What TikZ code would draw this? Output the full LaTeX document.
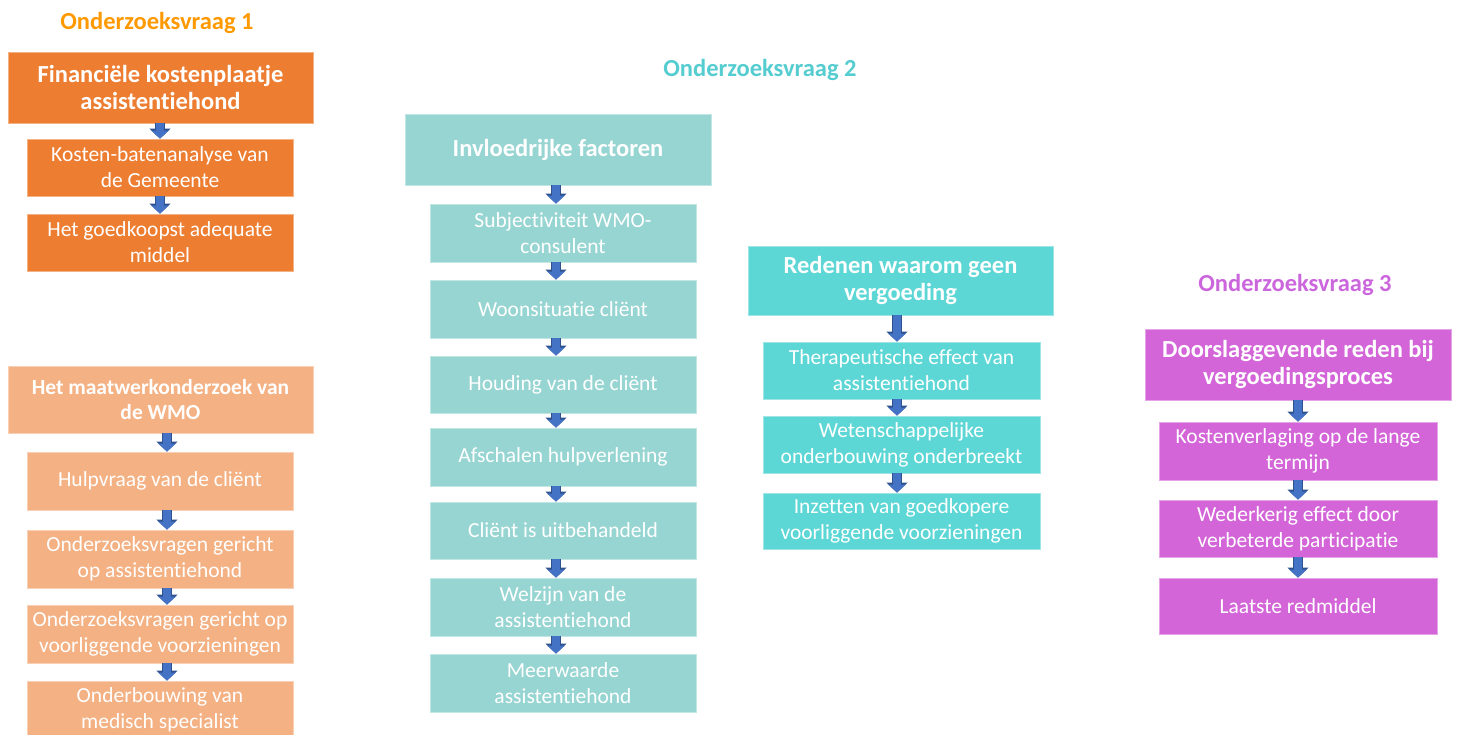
\documentclass[tikz,border=0pt]{standalone}
\usepackage{fontspec}
\setmainfont{Carlito}[Ligatures={NoCommon}]
\usetikzlibrary{arrows.meta}
\definecolor{orA}{HTML}{ED7D31}
\definecolor{orB}{HTML}{F4B183}
\definecolor{tlA}{HTML}{97D5D2}
\definecolor{tlB}{HTML}{5DD6D6}
\definecolor{mgA}{HTML}{D365D8}
\definecolor{ttlOr}{HTML}{FF9900}
\definecolor{ttlTl}{HTML}{55CDD0}
\definecolor{ttlMg}{HTML}{CC66DD}
\definecolor{arrFill}{HTML}{4472C4}
\definecolor{arrLine}{HTML}{2F528F}
\begin{document}
\begin{tikzpicture}[x=1pt,y=-1pt,
  box/.style={rectangle, inner sep=0pt, align=center, text=white, line width=0.8pt,
    font=\fontsize{21.5}{26}\selectfont},
  headbox/.style={box, font=\bfseries\fontsize{24.5}{27}\selectfont},
  headsmall/.style={box, font=\bfseries\fontsize{21.5}{25}\selectfont},
  ttl/.style={inner sep=0pt, font=\bfseries\fontsize{24.5}{29}\selectfont},
  cOA/.style={fill=orA, draw=orA!60!white},
  cOB/.style={fill=orB, draw=orB!60!white},
  cTA/.style={fill=tlA, draw=tlA!60!white},
  cTB/.style={fill=tlB, draw=tlB!60!white},
  cMG/.style={fill=mgA, draw=mgA!60!white},
  arr/.style={draw=arrFill, line width=8pt, -{Triangle[width=17pt,length=8pt]},
    preaction={draw=arrLine, line width=10pt, -{Triangle[width=20.5pt,length=10pt]}}}
]
\useasboundingbox (0,0) rectangle (1458,734);
\fill[white] (0,0) rectangle (1458,734);

% titles
\node[ttl, text=ttlOr] (t1) at (157,23) {Onderzoeksvraag 1};
\node[ttl, text=ttlTl] (t2) at (760,70) {Onderzoeksvraag 2};
\node[ttl, text=ttlMg] (t3) at (1295,285) {Onderzoeksvraag 3};

% column 1
\node[headbox, cOA, minimum width=305pt, minimum height=71pt] (a1) at (160.5,87.5) {Financiële kostenplaatje\\assistentiehond};
\node[box, cOA, minimum width=266pt, minimum height=57pt] (a2) at (160,167.5) {Kosten-batenanalyse van\\de Gemeente};
\node[box, cOA, minimum width=266pt, minimum height=57pt] (a3) at (160,242.5) {Het goedkoopst adequate\\middel};

% column 1b
\node[headsmall, cOB, minimum width=305pt, minimum height=67pt] (b1) at (160.5,399.5) {Het maatwerkonderzoek van\\de WMO};
\node[box, cOB, minimum width=266pt, minimum height=58pt] (b2) at (160,481) {Hulpvraag van de cliënt};
\node[box, cOB, minimum width=266pt, minimum height=58pt] (b3) at (160,559) {Onderzoeksvragen gericht\\op assistentiehond};
\node[box, cOB, minimum width=266pt, minimum height=58pt] (b4) at (160,634) {Onderzoeksvragen gericht op\\voorliggende voorzieningen};
\node[box, cOB, minimum width=266pt, minimum height=58pt] (b5) at (160,710) {Onderbouwing van\\medisch specialist};

% column 2
\node[headbox, cTA, minimum width=306pt, minimum height=71pt] (c1) at (558,149.5) {Invloedrijke factoren};
\node[box, cTA, minimum width=266pt, minimum height=58pt] (c2) at (563,233) {Subjectiviteit WMO-\\consulent};
\node[box, cTA, minimum width=266pt, minimum height=58pt] (c3) at (563,309) {Woonsituatie cliënt};
\node[box, cTA, minimum width=266pt, minimum height=57pt] (c4) at (563,384.5) {Houding van de cliënt};
\node[box, cTA, minimum width=266pt, minimum height=58pt] (c5) at (563,457) {Afschalen hulpverlening};
\node[box, cTA, minimum width=266pt, minimum height=57pt] (c6) at (563,530.5) {Cliënt is uitbehandeld};
\node[box, cTA, minimum width=266pt, minimum height=58pt] (c7) at (563,607) {Welzijn van de\\assistentiehond};
\node[box, cTA, minimum width=266pt, minimum height=58pt] (c8) at (563,683) {Meerwaarde\\assistentiehond};

% column 3
\node[headbox, cTB, minimum width=305pt, minimum height=69pt] (d1) at (900.5,280.5) {Redenen waarom geen\\vergoeding};
\node[box, cTB, minimum width=277pt, minimum height=57pt] (d2) at (901.5,370.5) {Therapeutische effect van\\assistentiehond};
\node[box, cTB, minimum width=277pt, minimum height=57pt] (d3) at (901.5,444.5) {Wetenschappelijke\\onderbouwing onderbreekt};
\node[box, cTB, minimum width=277pt, minimum height=56pt] (d4) at (901.5,521) {Inzetten van goedkopere\\voorliggende voorzieningen};

% column 4
\node[headbox, cMG, minimum width=306pt, minimum height=71pt] (e1) at (1298,364.5) {Doorslaggevende reden bij\\vergoedingsproces};
\node[box, cMG, minimum width=278pt, minimum height=58pt] (e2) at (1298,451) {Kostenverlaging op de lange\\termijn};
\node[box, cMG, minimum width=278pt, minimum height=57pt] (e3) at (1298,528.5) {Wederkerig effect door\\verbeterde participatie};
\node[box, cMG, minimum width=278pt, minimum height=56pt] (e4) at (1298,606) {Laatste redmiddel};

% arrow axes
\coordinate (ax1) at (160,0);
\coordinate (ax1b) at (167,0);
\coordinate (ax2) at (556,0);
\coordinate (ax3) at (897,0);
\coordinate (ax4) at (1298,0);

% arrows
\foreach \s/\t/\ax in {a1/a2/ax1, a2/a3/ax1,
  b1/b2/ax1b, b2/b3/ax1b, b3/b4/ax1b, b4/b5/ax1b,
  c1/c2/ax2, c2/c3/ax2, c3/c4/ax2, c4/c5/ax2, c5/c6/ax2, c6/c7/ax2, c7/c8/ax2,
  d1/d2/ax3, d2/d3/ax3, d3/d4/ax3,
  e1/e2/ax4, e2/e3/ax4, e3/e4/ax4}
  \draw[arr] (\s.south -| \ax) -- (\t.north -| \ax);
\end{tikzpicture}
\end{document}
